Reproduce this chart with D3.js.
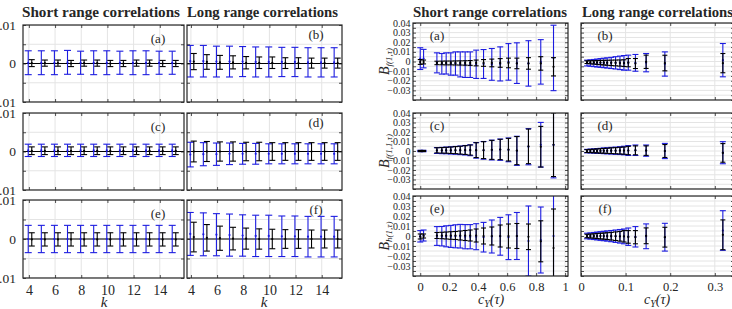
<!DOCTYPE html>
<html>
<head>
<meta charset="utf-8">
<script src="https://cdn.jsdelivr.net/npm/d3@7"></script>
<style>
  body { margin: 0; background: #fff; }
  svg text { font-family: "Liberation Serif", "DejaVu Serif", serif; fill: #262626; }
</style>
</head>
<body>
<svg id="chart" width="732" height="309"></svg>
<script>
// ---- data: left figure, error bars against lag k ----
const kVals = [4, 5, 6, 7, 8, 9, 10, 11, 12, 13, 14, 15];

const leftA_blueMid = [0.0002, 0.0002, 0.0002, 0.0003, 0.0002, 0.0002, 0.0002, 0.0002, 0.0002, 0.0002, 0.0002, 0.0002];
const leftA_blueErr = [0.0031, 0.0031, 0.0031, 0.0031, 0.0030, 0.0031, 0.0031, 0.0030, 0.0031, 0.0031, 0.0030, 0.0030];
const leftA_blackMid = [0.0001, 0.0001, 0.0001, 0.0000, 0.0001, 0.0001, 0.0000, 0.0000, 0.0001, 0.0001, 0.0000, 0.0000];
const leftA_blackErr = [0.0009, 0.0008, 0.0008, 0.0008, 0.0008, 0.0008, 0.0008, 0.0008, 0.0008, 0.0008, 0.0008, 0.0008];

const leftB_blueMid = [0.0006, 0.0006, 0.0005, 0.0005, 0.0005, 0.0004, 0.0004, 0.0004, 0.0004, 0.0003, 0.0003, 0.0003];
const leftB_blueErr = [0.0041, 0.0041, 0.0040, 0.0040, 0.0039, 0.0039, 0.0039, 0.0038, 0.0038, 0.0038, 0.0038, 0.0038];
const leftB_blackMid = [0.0005, 0.0004, 0.0003, 0.0003, 0.0002, 0.0002, 0.0002, 0.0001, 0.0001, 0.0001, 0.0001, 0.0001];
const leftB_blackErr = [0.0021, 0.0019, 0.0018, 0.0017, 0.0016, 0.0015, 0.0015, 0.0014, 0.0014, 0.0013, 0.0013, 0.0013];

const leftC_blueMid = [0.0003, 0.0003, 0.0003, 0.0003, 0.0003, 0.0003, 0.0003, 0.0003, 0.0003, 0.0003, 0.0003, 0.0003];
const leftC_blueErr = [0.0016, 0.0016, 0.0016, 0.0016, 0.0016, 0.0016, 0.0016, 0.0016, 0.0016, 0.0016, 0.0016, 0.0016];
const leftC_blackMid = [0.0002, 0.0002, 0.0002, 0.0002, 0.0002, 0.0002, 0.0002, 0.0002, 0.0002, 0.0002, 0.0002, 0.0002];
const leftC_blackErr = [0.0010, 0.0010, 0.0010, 0.0010, 0.0010, 0.0010, 0.0010, 0.0010, 0.0010, 0.0010, 0.0010, 0.0010];

const leftD_blueMid = [-0.0008, -0.0007, -0.0007, -0.0006, -0.0006, -0.0006, -0.0006, -0.0006, -0.0006, -0.0006, -0.0006, -0.0006];
const leftD_blueErr = [0.0032, 0.0030, 0.0029, 0.0028, 0.0027, 0.0027, 0.0026, 0.0026, 0.0026, 0.0026, 0.0026, 0.0026];
const leftD_blackMid = [0.0000, 0.0000, 0.0000, 0.0000, 0.0000, 0.0000, 0.0000, 0.0000, 0.0000, 0.0000, 0.0000, 0.0000];
const leftD_blackErr = [0.0027, 0.0026, 0.0025, 0.0025, 0.0024, 0.0024, 0.0023, 0.0023, 0.0023, 0.0023, 0.0023, 0.0023];

const leftE_blueMid = [0.0000, 0.0000, 0.0000, 0.0000, 0.0000, 0.0000, 0.0000, 0.0000, 0.0000, 0.0000, 0.0000, 0.0000];
const leftE_blueErr = [0.0035, 0.0035, 0.0035, 0.0035, 0.0035, 0.0035, 0.0035, 0.0035, 0.0035, 0.0035, 0.0035, 0.0035];
const leftE_blackMid = [-0.0001, -0.0001, -0.0001, -0.0001, -0.0001, -0.0001, -0.0001, -0.0001, -0.0001, -0.0001, -0.0001, -0.0001];
const leftE_blackErr = [0.0017, 0.0017, 0.0017, 0.0017, 0.0017, 0.0017, 0.0017, 0.0017, 0.0017, 0.0017, 0.0017, 0.0017];

const leftF_blueMid = [0.0013, 0.0012, 0.0011, 0.0010, 0.0009, 0.0008, 0.0008, 0.0007, 0.0007, 0.0006, 0.0006, 0.0006];
const leftF_blueErr = [0.0055, 0.0055, 0.0054, 0.0054, 0.0053, 0.0053, 0.0053, 0.0052, 0.0052, 0.0052, 0.0052, 0.0052];
const leftF_blackMid = [0.0005, 0.0003, 0.0002, 0.0001, 0.0001, 0.0000, 0.0000, 0.0000, 0.0000, 0.0000, 0.0000, 0.0000];
const leftF_blackErr = [0.0038, 0.0034, 0.0031, 0.0029, 0.0027, 0.0026, 0.0025, 0.0024, 0.0024, 0.0023, 0.0023, 0.0023];

// ---- data: right figure, error bars against c_Y(tau) ----
const cShort = [0.0, 0.023, 0.115, 0.149, 0.179, 0.211, 0.243, 0.276, 0.31, 0.345, 0.386, 0.437, 0.494, 0.552, 0.609, 0.667, 0.747, 0.832, 0.92];
const cLong = [0.0135, 0.021, 0.0287, 0.036, 0.0436, 0.051, 0.0587, 0.0677, 0.0775, 0.0873, 0.0963, 0.106, 0.122, 0.146, 0.188, 0.318];

const rightA_blueMid = [0.003, 0.003, -0.0014, -0.0024, -0.002, -0.0026, -0.0021, -0.003, -0.0033, -0.0033, -0.0029, -0.0026, -0.003, -0.0025, -0.0004, -0.0017, -0.002, -0.0004, 0.0037];
const rightA_blueErr = [0.0113, 0.0096, 0.0104, 0.0107, 0.011, 0.0116, 0.0121, 0.013, 0.0133, 0.0133, 0.0147, 0.015, 0.0165, 0.0177, 0.019, 0.0211, 0.0236, 0.0231, 0.034];
const rightA_blackMid = [-0.0005, -0.0005, -0.0015, -0.0015, -0.0015, -0.0015, -0.0015, -0.0015, -0.0015, -0.0015, -0.0015, -0.0015, -0.0015, -0.0015, -0.0015, -0.002, -0.002, -0.002, -0.0055];
const rightA_blackErr = [0.0025, 0.002, 0.0018, 0.0019, 0.002, 0.002, 0.0021, 0.0022, 0.0023, 0.0025, 0.003, 0.0035, 0.004, 0.0045, 0.005, 0.0055, 0.006, 0.007, 0.0095];

const rightB_blueMid = [-0.0016, -0.0016, -0.0016, -0.0016, -0.0015, -0.0015, -0.0015, -0.0015, -0.0014, -0.0014, -0.0014, -0.0012, -0.0014, -0.0012, -0.0026, 0.0014];
const rightB_blueErr = [0.003, 0.0033, 0.0037, 0.0041, 0.0045, 0.0049, 0.0053, 0.0058, 0.0064, 0.007, 0.0076, 0.0078, 0.0087, 0.0095, 0.0126, 0.0173];
const rightB_blackMid = [-0.0007, -0.0008, -0.0009, -0.001, -0.0011, -0.0012, -0.0013, -0.0014, -0.0015, -0.0016, -0.0017, -0.0012, -0.0021, -0.0003, -0.0016, -0.0017];
const rightB_blackErr = [0.0014, 0.0016, 0.0018, 0.002, 0.0022, 0.0024, 0.0026, 0.0028, 0.003, 0.0032, 0.0035, 0.0043, 0.0052, 0.0069, 0.0081, 0.01];

const rightC_blueMid = [0, 0, 0.0005, 0.0005, 0.0006, 0.0006, 0.0007, 0.0007, 0.0008, 0.0008, 0.0007, 0.0007, 0.001, 0.0014, 0.0012, 0.0002, 0.0045, 0.0066, 0.0064];
const rightC_blueErr = [0.0007, 0.0007, 0.0031, 0.0033, 0.0035, 0.0038, 0.0041, 0.0045, 0.005, 0.0057, 0.0082, 0.0093, 0.0104, 0.0112, 0.0125, 0.0153, 0.019, 0.0235, 0.0347];
const rightC_blackMid = [0, 0, 0.0007, 0.0007, 0.0008, 0.0008, 0.0009, 0.0009, 0.001, 0.001, 0.0009, 0.0009, 0.0012, 0.0016, 0.0014, 0.0004, 0.0049, 0.0045, 0.0066];
const rightC_blackErr = [0.0006, 0.0006, 0.0027, 0.0029, 0.0031, 0.0034, 0.0037, 0.0041, 0.0046, 0.0053, 0.0078, 0.0089, 0.01, 0.0107, 0.0119, 0.0148, 0.0182, 0.0214, 0.0335];

const rightD_blueMid = [-0.0001, 0, 0, 0.0001, 0.0001, 0.0002, 0.0002, 0.0003, 0.0003, 0.0004, 0.0005, 0.0005, 0.0008, 0.0004, 0, -0.0018];
const rightD_blueErr = [0.0018, 0.002, 0.0022, 0.0025, 0.0027, 0.003, 0.0032, 0.0035, 0.0038, 0.0041, 0.0045, 0.0052, 0.0055, 0.0059, 0.008, 0.0116];
const rightD_blackMid = [-0.0001, 0, 0, 0.0001, 0.0001, 0.0002, 0.0002, 0.0003, 0.0003, 0.0004, 0.0004, 0.0005, 0.0007, 0.0004, 0, -0.002];
const rightD_blackErr = [0.0015, 0.0017, 0.0019, 0.0021, 0.0023, 0.0025, 0.0027, 0.003, 0.0032, 0.0035, 0.0038, 0.0044, 0.0047, 0.005, 0.0068, 0.0098];

const rightE_blueMid = [-0.0003, 0.0005, 0, -0.0002, -0.0003, -0.0004, -0.0003, -0.0002, -0.0007, -0.0007, -0.0007, -0.0012, -0.0005, -0.0003, -0.0012, 0, -0.005, -0.004, 0];
const rightE_blueErr = [0.0057, 0.0055, 0.0094, 0.0097, 0.0105, 0.011, 0.0115, 0.0118, 0.0121, 0.0121, 0.013, 0.0148, 0.0165, 0.0189, 0.0224, 0.0235, 0.035, 0.033, 0.06];
const rightE_blackMid = [-0.0005, 0, 0.0005, 0.0005, 0.0005, 0.0005, 0.0005, 0.0005, 0.0005, 0.0005, 0.0005, 0, 0, 0, 0, 0, -0.0008, -0.0053, -0.012];
const rightE_blackErr = [0.0025, 0.002, 0.003, 0.0032, 0.0035, 0.0038, 0.004, 0.0045, 0.005, 0.0055, 0.0065, 0.008, 0.009, 0.011, 0.012, 0.0125, 0.0128, 0.0205, 0.039];

const rightF_blueMid = [0, 0, 0, 0, 0, 0, 0, -0.0001, -0.0002, -0.0003, -0.0004, -0.0007, -0.0008, -0.0003, -0.0012, 0.0055];
const rightF_blueErr = [0.0028, 0.0031, 0.0035, 0.0039, 0.0043, 0.0047, 0.0051, 0.0056, 0.0062, 0.0068, 0.0074, 0.0087, 0.0102, 0.0124, 0.0139, 0.0198];
const rightF_blackMid = [0, 0, 0, 0, -0.0001, -0.0001, -0.0001, -0.0002, -0.0002, -0.0003, -0.0003, -0.0009, -0.0012, 0.0002, -0.0012, 0.0012];
const rightF_blackErr = [0.0017, 0.0019, 0.0022, 0.0025, 0.0028, 0.0031, 0.0034, 0.0038, 0.0043, 0.0048, 0.0057, 0.0063, 0.0066, 0.0079, 0.0099, 0.0149];

// ---- ticks ----
const kTicks = [4, 6, 8, 10, 12, 14];
const leftYTicks = [-0.01, -0.005, 0, 0.005, 0.01];
const leftYLabels = [-0.01, 0, 0.01];
const shortCTicks = [0, 0.2, 0.4, 0.6, 0.8, 1];
const longCTicks = [0, 0.1, 0.2, 0.3];
const rightYLabels = [-0.03, -0.02, -0.01, 0, 0.01, 0.02, 0.03, 0.04];
const rightYMinor = d3.range(-8, 9).map(i => i * 0.005);

const BLUE = "#1c1ce0";
const BLACK = "#000";
const GRID = "#e4e4e4";
const AXIS = "#262626";

const svg = d3.select("#chart");
let clipCount = 0;

const fmtK = d => String(d);
const fmtC = d => (d === 0 ? "0" : d === 1 ? "1" : d3.format(".1f")(d));
const fmtY = d => (d === 0 ? "0" : d3.format(".2f")(d));

function drawPanel(p) {
  const x = d3.scaleLinear().domain(p.xDomain).range([p.x0, p.x1]);
  const y = d3.scaleLinear().domain(p.yDomain).range([p.y1, p.y0]);
  const id = "clip" + (clipCount++);
  svg.append("clipPath").attr("id", id).append("rect")
    .attr("x", p.x0).attr("y", p.y0).attr("width", p.x1 - p.x0).attr("height", p.y1 - p.y0);

  const g = svg.append("g");
  const plot = g.append("g").attr("clip-path", `url(#${id})`);

  // grid
  plot.selectAll("line.gx").data(p.xTicks).join("line")
    .attr("x1", d => x(d)).attr("x2", d => x(d))
    .attr("y1", p.y0).attr("y2", p.y1)
    .attr("stroke", GRID).attr("stroke-width", 1);
  plot.selectAll("line.gy").data(p.yGrid).join("line")
    .attr("x1", p.x0).attr("x2", p.x1)
    .attr("y1", d => y(d)).attr("y2", d => y(d))
    .attr("stroke", GRID).attr("stroke-width", 1);

  if (p.zeroLine) {
    plot.append("line")
      .attr("x1", p.x0).attr("x2", p.x1)
      .attr("y1", y(0)).attr("y2", y(0))
      .attr("stroke", BLACK).attr("stroke-width", 1);
  }

  p.series.forEach(s => {
    const data = p.xs.map((v, i) => ({ x: x(v + s.dx), m: s.mid[i], e: s.err[i] }));
    const sg = plot.append("g").attr("stroke", s.color).attr("stroke-width", 1.1);
    sg.selectAll("line.v").data(data).join("line")
      .attr("x1", d => d.x).attr("x2", d => d.x)
      .attr("y1", d => y(d.m - d.e)).attr("y2", d => y(d.m + d.e));
    sg.selectAll("line.t").data(data).join("line")
      .attr("x1", d => d.x - s.cap / 2).attr("x2", d => d.x + s.cap / 2)
      .attr("y1", d => y(d.m + d.e)).attr("y2", d => y(d.m + d.e));
    sg.selectAll("line.b").data(data).join("line")
      .attr("x1", d => d.x - s.cap / 2).attr("x2", d => d.x + s.cap / 2)
      .attr("y1", d => y(d.m - d.e)).attr("y2", d => y(d.m - d.e));
    plot.append("g").selectAll("circle").data(data).join("circle")
      .attr("cx", d => d.x).attr("cy", d => y(d.m)).attr("r", 1.1)
      .attr("fill", s.color);
  });

  // axes with inward ticks
  const axB = d3.axisBottom(x).tickValues(p.xTicks).tickSizeInner(-3).tickSizeOuter(0)
    .tickFormat(p.xLabels ? p.xFormat : "");
  const axT = d3.axisTop(x).tickValues(p.xTicks).tickSizeInner(-3).tickSizeOuter(0).tickFormat("");
  const axL = d3.axisLeft(y).tickValues(p.yTickMarks).tickSizeInner(-3).tickSizeOuter(0).tickFormat("");
  const axR = d3.axisRight(y).tickValues(p.yTickMarks).tickSizeInner(-3).tickSizeOuter(0).tickFormat("");

  const styleAxis = sel => {
    sel.select(".domain").remove();
    sel.selectAll(".tick line").attr("stroke", AXIS).attr("stroke-width", 0.8);
  };
  const bx = g.append("g").attr("transform", `translate(0,${p.y1})`).call(axB).call(styleAxis);
  bx.selectAll(".tick text")
    .attr("font-size", p.xFont).attr("fill", AXIS)
    .attr("font-family", '"Liberation Serif", "DejaVu Serif", serif')
    .attr("y", p.xLabelDy);
  g.append("g").attr("transform", `translate(0,${p.y0})`).call(axT).call(styleAxis);
  g.append("g").attr("transform", `translate(${p.x0},0)`).call(axL).call(styleAxis);
  g.append("g").attr("transform", `translate(${p.x1},0)`).call(axR).call(styleAxis);

  if (p.yLabels) {
    g.append("g").selectAll("text").data(p.yLabels).join("text")
      .attr("x", p.x0 - p.yLabelGap).attr("y", d => y(d)).attr("dy", "0.35em")
      .attr("text-anchor", "end").attr("font-size", p.yFont)
      .text(fmtY);
  }

  g.append("rect")
    .attr("x", p.x0).attr("y", p.y0).attr("width", p.x1 - p.x0).attr("height", p.y1 - p.y0)
    .attr("fill", "none").attr("stroke", AXIS).attr("stroke-width", 1.2);

  g.append("text")
    .attr("x", p.tagX).attr("y", p.tagY).attr("text-anchor", "middle")
    .attr("font-size", 13).text(p.tag);

  return { x, y };
}

function leftSeries(blueMid, blueErr, blackMid, blackErr) {
  return [
    { mid: blueMid, err: blueErr, color: BLUE, dx: -0.05, cap: 7 },
    { mid: blackMid, err: blackErr, color: BLACK, dx: 0.22, cap: 6 }
  ];
}
function rightSeries(blueMid, blueErr, blackMid, blackErr) {
  return [
    { mid: blueMid, err: blueErr, color: BLUE, dx: 0, cap: 6 },
    { mid: blackMid, err: blackErr, color: BLACK, dx: 0, cap: 5 }
  ];
}

// ---- left figure ----
const leftRows = [[25, 102], [113, 190], [200, 278]];
const leftCols = [{ x0: 23, x1: 184, dom: [3.55, 15.85] }, { x0: 187, x1: 342, dom: [3.7, 15.55] }];
const leftData = [
  [leftSeries(leftA_blueMid, leftA_blueErr, leftA_blackMid, leftA_blackErr), leftSeries(leftB_blueMid, leftB_blueErr, leftB_blackMid, leftB_blackErr)],
  [leftSeries(leftC_blueMid, leftC_blueErr, leftC_blackMid, leftC_blackErr), leftSeries(leftD_blueMid, leftD_blueErr, leftD_blackMid, leftD_blackErr)],
  [leftSeries(leftE_blueMid, leftE_blueErr, leftE_blackMid, leftE_blackErr), leftSeries(leftF_blueMid, leftF_blueErr, leftF_blackMid, leftF_blackErr)]
];
const leftTags = [["(a)", "(b)"], ["(c)", "(d)"], ["(e)", "(f)"]];

leftRows.forEach((r, ri) => {
  leftCols.forEach((c, ci) => {
    drawPanel({
      x0: c.x0, x1: c.x1, y0: r[0], y1: r[1],
      xDomain: c.dom, yDomain: [-0.01, 0.01],
      xs: kVals, series: leftData[ri][ci],
      xTicks: kTicks, xLabels: ri === 2, xFormat: fmtK, xFont: 14, xLabelDy: 7,
      yGrid: leftYTicks, yTickMarks: leftYTicks,
      yLabels: ci === 0 ? leftYLabels : null, yFont: 13.5, yLabelGap: 7,
      zeroLine: true,
      tag: leftTags[ri][ci], tagX: c.x1 - 26, tagY: r[0] + (ci === 0 ? 18 : 14)
    });
  });
});

// ---- right figure ----
const rightRows = [[23, 100], [113, 189], [196, 276]];
const rightCols = [
  { x0: 413, x1: 568, dom: [-0.05, 1.02], xs: cShort, ticks: shortCTicks },
  { x0: 581, x1: 734, dom: [0, 0.343], xs: cLong, ticks: longCTicks }
];
const rightData = [
  [rightSeries(rightA_blueMid, rightA_blueErr, rightA_blackMid, rightA_blackErr), rightSeries(rightB_blueMid, rightB_blueErr, rightB_blackMid, rightB_blackErr)],
  [rightSeries(rightC_blueMid, rightC_blueErr, rightC_blackMid, rightC_blackErr), rightSeries(rightD_blueMid, rightD_blueErr, rightD_blackMid, rightD_blackErr)],
  [rightSeries(rightE_blueMid, rightE_blueErr, rightE_blackMid, rightE_blackErr), rightSeries(rightF_blueMid, rightF_blueErr, rightF_blackMid, rightF_blackErr)]
];

rightRows.forEach((r, ri) => {
  rightCols.forEach((c, ci) => {
    drawPanel({
      x0: c.x0, x1: c.x1, y0: r[0], y1: r[1],
      xDomain: c.dom, yDomain: [-0.04, 0.04],
      xs: c.xs, series: rightData[ri][ci],
      xTicks: c.ticks, xLabels: ri === 2, xFormat: fmtC, xFont: 12.5, xLabelDy: 6,
      yGrid: rightYMinor, yTickMarks: rightYMinor,
      yLabels: ci === 0 ? rightYLabels : null, yFont: 10, yLabelGap: 2.5,
      zeroLine: false,
      tag: leftTags[ri][ci], tagX: c.x0 + 24, tagY: r[0] + 17
    });
  });
});

// ---- titles ----
const titles = [
  { text: "Short range correlations", x: 22, w: 158 },
  { text: "Long range correlations", x: 187, w: 151 },
  { text: "Short range correlations", x: 413, w: 154 },
  { text: "Long range correlations", x: 582, w: 151 }
];
svg.selectAll("text.title").data(titles).join("text")
  .attr("class", "title")
  .attr("x", d => d.x).attr("y", 16.5)
  .attr("font-size", 14.5).attr("font-weight", "bold")
  .attr("fill", "#111")
  .attr("textLength", d => d.w).attr("lengthAdjust", "spacingAndGlyphs")
  .text(d => d.text);

// ---- axis labels ----
[104, 264].forEach(cx => {
  svg.append("text").attr("x", cx).attr("y", 307).attr("text-anchor", "middle")
    .attr("font-size", 15).attr("font-style", "italic").text("k");
});
[491, 657].forEach(cx => {
  const t = svg.append("text").attr("x", cx).attr("y", 304).attr("text-anchor", "middle")
    .attr("font-size", 14).attr("font-style", "italic");
  t.append("tspan").text("c");
  t.append("tspan").attr("font-size", 10).attr("dy", 3).text("Y");
  t.append("tspan").attr("dy", -3).text("(τ)");
});

const bLabels = ["f(1,τ)", "f(1,1,τ)", "h(1,τ)"];
rightRows.forEach((r, i) => {
  const t = svg.append("text")
    .attr("transform", `translate(389,${(r[0] + r[1]) / 2}) rotate(-90)`)
    .attr("text-anchor", "middle").attr("font-size", 14).attr("font-style", "italic");
  t.append("tspan").text("B");
  t.append("tspan").attr("font-size", 9).attr("dy", 3).text(bLabels[i]);
});
</script>
</body>
</html>
